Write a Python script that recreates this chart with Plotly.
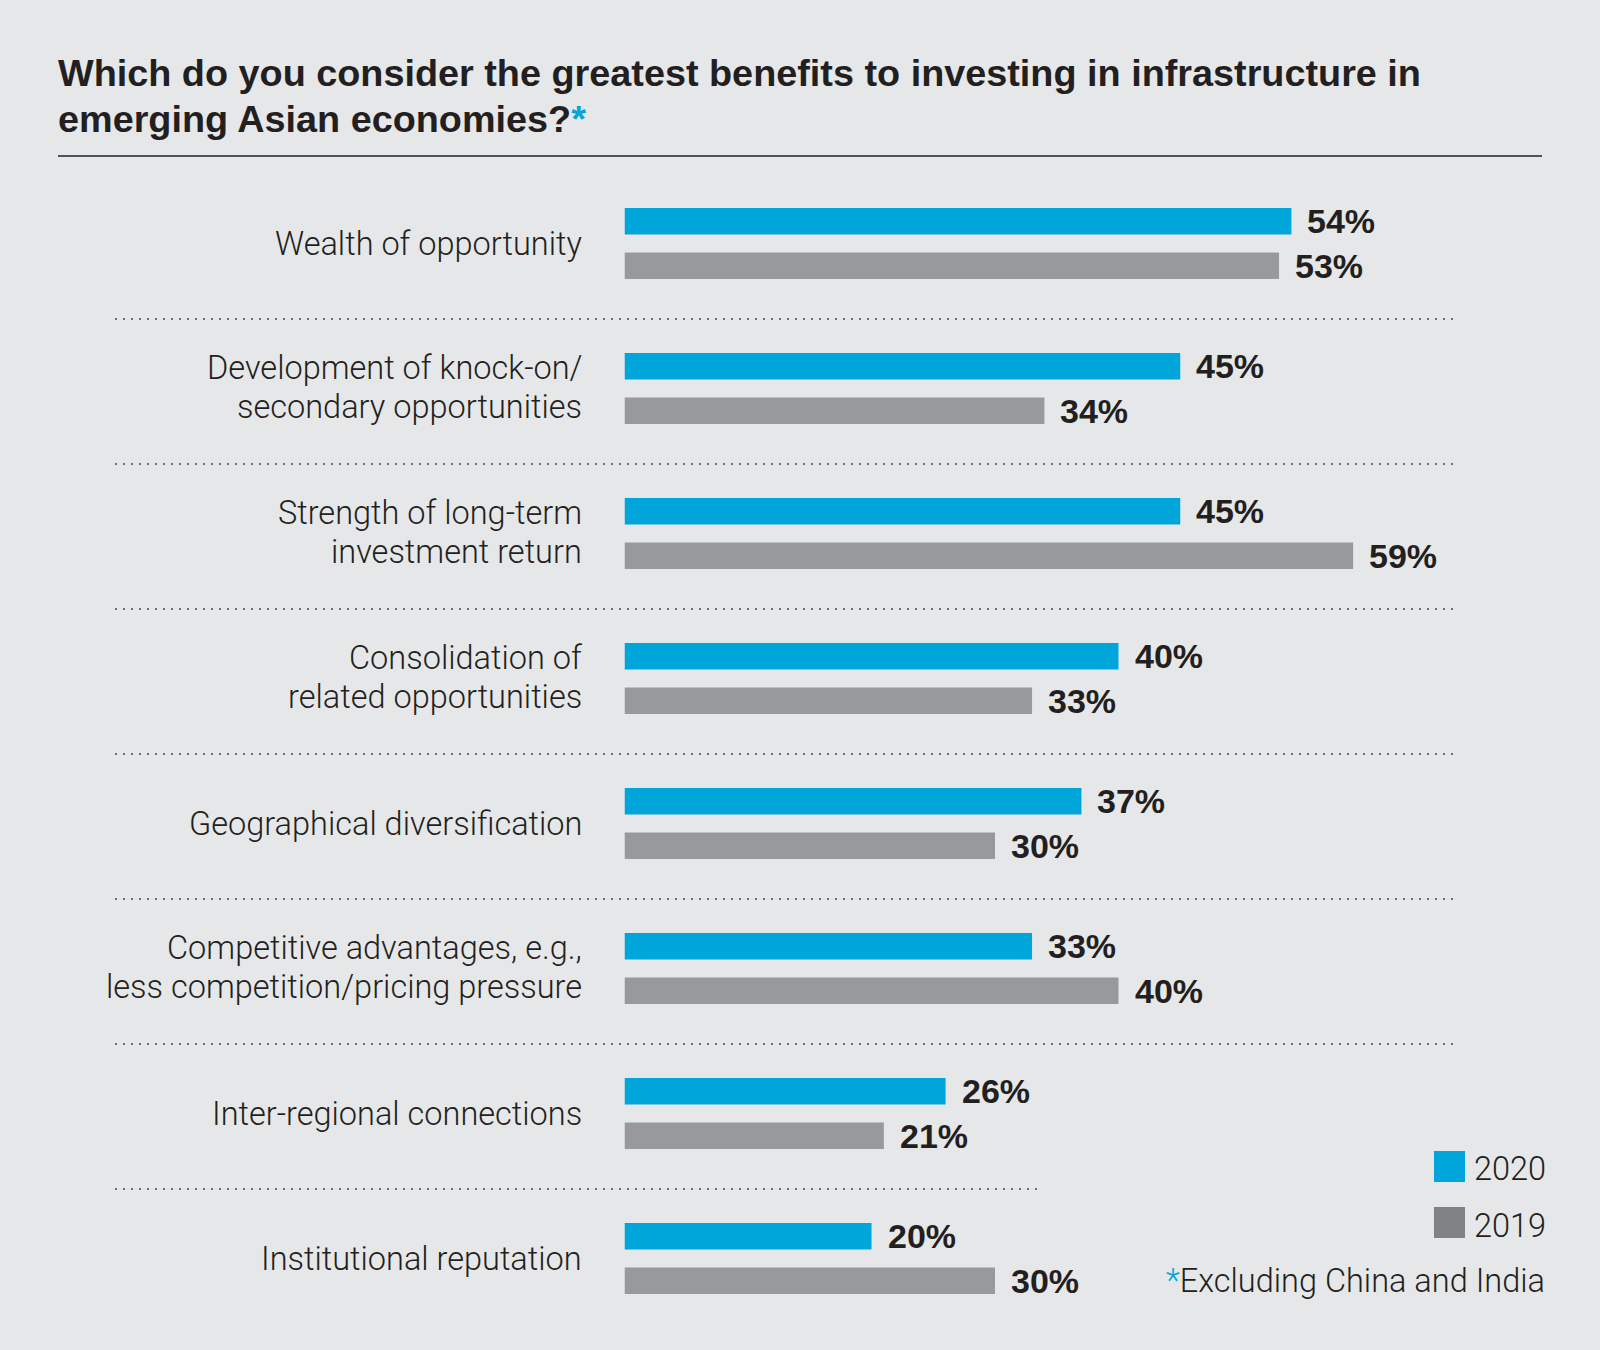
import plotly.graph_objects as go

categories = [
    "Wealth of opportunity",
    "Development of knock-on/<br>secondary opportunities",
    "Strength of long-term<br>investment return",
    "Consolidation of<br>related opportunities",
    "Geographical diversification",
    "Competitive advantages, e.g.,<br>less competition/pricing pressure",
    "Inter-regional connections",
    "Institutional reputation",
]
values_2020 = [54, 45, 45, 40, 37, 33, 26, 20]
values_2019 = [53, 34, 59, 33, 30, 40, 21, 30]
series_names = ["2020", "2019"]

W, H = 1600, 1350
BG = "#E6E7E9"
BLUE = "#00A6D9"
GRAY = "#98999C"
GRAY_LEG = "#808285"
TXT = "#231F20"
M_T, M_B = 171, 19
PLOT_H = H - M_T - M_B


def py(p):
    """pixel y from top -> paper y"""
    return (H - M_B - p) / PLOT_H


def px(p):
    return p / W


LABEL_FONT = dict(family="Roboto, Liberation Sans, Arial, sans-serif", size=32.5, color=TXT, weight=300)
VAL_FONT = dict(family="Liberation Sans, Arial, sans-serif", size=34, color=TXT, weight="bold")

fig = go.Figure()
fig.add_trace(go.Bar(name=series_names[0], y=categories, x=values_2020, orientation="h",
                     marker=dict(color=BLUE, line=dict(width=0)), hoverinfo="skip"))
fig.add_trace(go.Bar(name=series_names[1], y=categories, x=values_2019, orientation="h",
                     marker=dict(color=GRAY, line=dict(width=0)), hoverinfo="skip"))

annotations = []
for cat, v in zip(categories, values_2020):
    annotations.append(dict(x=v, y=cat, xref="x", yref="y", text=f"{v}%", showarrow=False,
                            xanchor="left", yanchor="middle", xshift=14, yshift=22.25, font=VAL_FONT))
for cat, v in zip(categories, values_2019):
    annotations.append(dict(x=v, y=cat, xref="x", yref="y", text=f"{v}%", showarrow=False,
                            xanchor="left", yanchor="middle", xshift=14, yshift=-22.25, font=VAL_FONT))

# Category labels (one annotation per line for tight line spacing)
for cat in categories:
    lines = cat.split("<br>")
    if len(lines) == 1:
        shifts = [0]
    else:
        shifts = [21, -18]
    for line, s in zip(lines, shifts):
        annotations.append(dict(x=px(584), y=cat, xref="paper", yref="y", text=line, showarrow=False,
                                xanchor="right", yanchor="middle", yshift=s, font=LABEL_FONT))

# Title
TITLE_FONT = dict(family="Liberation Sans, Arial, sans-serif", size=37.8, color=TXT, weight="bold")
annotations.append(dict(x=px(56), y=py(73), xref="paper", yref="paper", showarrow=False,
                        xanchor="left", yanchor="middle", font=TITLE_FONT,
                        text="Which do you consider the greatest benefits to investing in infrastructure in"))
annotations.append(dict(x=px(56), y=py(119), xref="paper", yref="paper", showarrow=False,
                        xanchor="left", yanchor="middle", font=TITLE_FONT,
                        text=f"emerging Asian economies?<span style='color:{BLUE}'>*</span>"))

# Legend text
LEG_FONT = dict(family="Roboto, Liberation Sans, Arial, sans-serif", size=32.5, color=TXT, weight=300)
annotations.append(dict(x=px(1472), y=py(1169), xref="paper", yref="paper", showarrow=False,
                        xanchor="left", yanchor="middle", font=LEG_FONT, text=series_names[0]))
annotations.append(dict(x=px(1472), y=py(1226), xref="paper", yref="paper", showarrow=False,
                        xanchor="left", yanchor="middle", font=LEG_FONT, text=series_names[1]))
annotations.append(dict(x=px(1547), y=py(1281), xref="paper", yref="paper", showarrow=False,
                        xanchor="right", yanchor="middle", font=LEG_FONT,
                        text=f"<span style='color:{BLUE}'>*</span>Excluding China and India"))

shapes = []
# top rule
shapes.append(dict(type="line", xref="paper", yref="paper", x0=px(58), x1=px(1542),
                   y0=py(156), y1=py(156), line=dict(color=TXT, width=1.5)))
# dotted separators
n = len(categories)
for i in range(n - 1):
    x_end = 1039 if i == n - 2 else 1457
    shapes.append(dict(type="line", xref="paper", yref="y", ysizemode="pixel", yanchor=i + 0.5,
                       x0=px(115), x1=px(x_end), y0=-3, y1=-3,
                       line=dict(color="#6D6E71", width=2, dash="2px,6px")))
# legend squares
shapes.append(dict(type="rect", xref="paper", yref="paper", x0=px(1434), x1=px(1465),
                   y0=py(1182), y1=py(1151), fillcolor=BLUE, line=dict(width=0)))
shapes.append(dict(type="rect", xref="paper", yref="paper", x0=px(1434), x1=px(1465),
                   y0=py(1238), y1=py(1207), fillcolor=GRAY_LEG, line=dict(width=0)))

fig.update_layout(
    width=W, height=H,
    paper_bgcolor=BG, plot_bgcolor=BG,
    margin=dict(l=0, r=0, t=M_T, b=M_B, pad=0),
    barmode="group", bargap=0.386, bargroupgap=0.404,
    showlegend=False,
    annotations=annotations,
    shapes=shapes,
    xaxis=dict(domain=[624.5 / W, 1], range=[0, (W - 624.5) / 12.35], visible=False,
               showgrid=False, zeroline=False, fixedrange=True),
    yaxis=dict(type="category", autorange="reversed", showgrid=False, zeroline=False,
               showline=False, ticks="", showticklabels=False, fixedrange=True),
    font=dict(family="Liberation Sans, Arial, sans-serif", color=TXT),
)

fig.write_html("out.html", config={"displayModeBar": False},
               post_script="document.body.style.margin='0';document.body.style.background='#E6E7E9';")
